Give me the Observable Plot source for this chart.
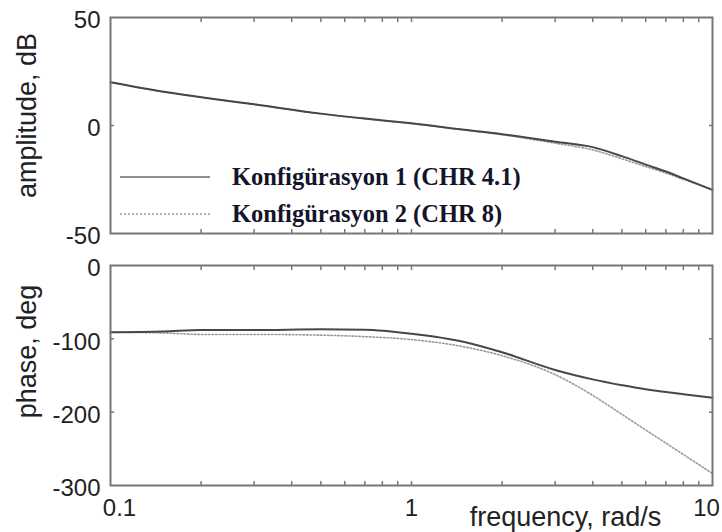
<!DOCTYPE html>
<html>
<head>
<meta charset="utf-8">
<script src="https://cdn.jsdelivr.net/npm/d3@7"></script>
<script src="https://cdn.jsdelivr.net/npm/@observablehq/plot@0.6"></script>
<style>
  html, body { margin: 0; padding: 0; background: #fff; }
  #chart { position: relative; width: 722px; height: 532px; overflow: hidden; }
  #chart svg { display: block; }
  .legend { position: absolute; left: 0; top: 0; width: 722px; height: 250px; pointer-events: none; }
  .legend .row { position: absolute; left: 120px; display: flex; align-items: center; }
  .legend .sample { width: 90px; height: 0; margin-right: 22px; }
  .legend .solid { border-top: 2px solid #8f8f8f; }
  .legend .dotted { border-top: 2px dotted #b0b0b0; }
  .legend .label { font-family: "Liberation Serif", "Times New Roman", serif; font-weight: bold; font-size: 24.5px; color: #14142a; white-space: pre; }
</style>
</head>
<body>
<div id="chart"></div>
<script>
// Bode diagram of two configurations (frequency in rad/s, log scale)
const frequency = [0.1, 0.15, 0.2, 0.3, 0.5, 0.7, 1, 1.5, 2, 3, 4, 5, 6, 7, 8, 10];

// amplitude, dB
const amplitude1 = [20.0, 15.6, 13.1, 9.8, 5.5, 3.2, 1.0, -2.0, -4.0, -7.5, -10.0, -14.2, -18.1, -21.3, -24.5, -29.8];
const amplitude2 = [20.0, 15.6, 13.1, 9.8, 5.4, 3.1, 0.9, -2.1, -4.3, -8.2, -11.3, -15.4, -19.0, -22.0, -24.9, -29.8];

// phase, deg
const phase1 = [-91, -90, -88, -88, -87, -87.5, -93, -104.2, -118.3, -142.5, -155.3, -163.2, -168.9, -172.6, -175.6, -180.5];
const phase2 = [-91, -92, -94, -94, -95, -97, -101, -111, -123, -148.8, -177.1, -203, -224.3, -242.2, -257.7, -283.7];

const seriesNames = ["Konfigürasyon 1 (CHR 4.1)", "Konfigürasyon 2 (CHR 8)"];

const ampTicks = [-50, 0, 50];
const phaseTicks = [-300, -200, -100, 0];
const ampInnerTicks = [0];
const phaseInnerTicks = [-200, -100];
const freqLabels = [0.1, 1, 10];
const freqMinor = [0.2, 0.3, 0.4, 0.5, 0.6, 0.7, 0.8, 0.9, 1, 2, 3, 4, 5, 6, 7, 8, 9];

const rows = (ys) => frequency.map((f, i) => ({f, v: ys[i]}));
const plain = d => String(d); // hyphen-minus, as in the printed figure

const frameColor = "#777";
const solidColor = "#474747";
const dottedColor = "#9a9a9a";
const textColor = "#222";
const sansFont = "'Liberation Sans', Arial, Helvetica, sans-serif";

function edgeTicks(yInner) {
  const common = {tickSize: -4, stroke: frameColor, strokeWidth: 1.5, tickFormat: () => "", label: null};
  return [
    Plot.axisX(freqMinor, {anchor: "top", ...common}),
    Plot.axisX(freqMinor, {anchor: "bottom", ...common}),
    Plot.axisY(yInner, {anchor: "left", ...common}),
    Plot.axisY(yInner, {anchor: "right", ...common})
  ];
}

function curves(a, b) {
  return [
    Plot.line(rows(b), {x: "f", y: "v", stroke: dottedColor, strokeWidth: 1.6, strokeDasharray: "1.5,2", curve: "monotone-x"}),
    Plot.line(rows(a), {x: "f", y: "v", stroke: solidColor, strokeWidth: 2, curve: "monotone-x"})
  ];
}

function yLabel(text, dy) {
  return Plot.text([text], {frameAnchor: "left", rotate: -90, textAnchor: "middle", lineAnchor: "middle", dx: -83, dy, fontSize: 27, fill: textColor});
}

const xScale = {type: "log", domain: [0.1, 10], label: null};

const ampPlot = Plot.plot({
  width: 722,
  height: 250,
  marginTop: 17,
  marginBottom: 17,
  marginLeft: 110,
  marginRight: 10,
  style: {fontFamily: sansFont, background: "transparent"},
  x: xScale,
  y: {domain: [-50, 50], label: null},
  marks: [
    ...curves(amplitude1, amplitude2),
    ...edgeTicks(ampInnerTicks),
    Plot.axisY(ampTicks, {anchor: "left", tickSize: 0, tickPadding: 10, dy: 3, fontSize: 24, fill: textColor, tickFormat: plain, label: null}),
    yLabel("amplitude, dB", -10),
    Plot.frame({stroke: frameColor, strokeWidth: 2})
  ]
});

const xTickText = {anchor: "bottom", tickSize: 0, tickPadding: 13, fontSize: 24, fill: textColor, tickFormat: plain, label: null};

const phasePlot = Plot.plot({
  width: 722,
  height: 282,
  marginTop: 15,
  marginBottom: 47,
  marginLeft: 110,
  marginRight: 10,
  style: {fontFamily: sansFont, background: "transparent"},
  x: xScale,
  y: {domain: [-300, 0], label: null},
  marks: [
    ...curves(phase1, phase2),
    ...edgeTicks(phaseInnerTicks),
    Plot.axisY(phaseTicks, {anchor: "left", tickSize: 0, tickPadding: 10, dy: 3, fontSize: 24, fill: textColor, tickFormat: plain, label: null}),
    Plot.axisX([freqLabels[0]], {...xTickText, dx: 9}),
    Plot.axisX([freqLabels[1]], {...xTickText}),
    Plot.axisX([freqLabels[2]], {...xTickText, dx: -6}),
    yLabel("phase, deg", -24),
    Plot.text(["frequency, rad/s"], {frameAnchor: "bottom", dx: 154, dy: 32, fontSize: 27, fill: textColor, lineAnchor: "middle"}),
    Plot.frame({stroke: frameColor, strokeWidth: 2})
  ]
});

const chart = document.getElementById("chart");
chart.appendChild(ampPlot);
chart.appendChild(phasePlot);

// legend drawn over the amplitude panel
const legend = document.createElement("div");
legend.className = "legend";
const legendRows = [
  {name: seriesNames[0], cls: "solid", top: 163},
  {name: seriesNames[1], cls: "dotted", top: 200}
];
for (const r of legendRows) {
  const row = document.createElement("div");
  row.className = "row";
  row.style.top = r.top + "px";
  const s = document.createElement("div");
  s.className = "sample " + r.cls;
  const t = document.createElement("span");
  t.className = "label";
  t.textContent = r.name;
  row.appendChild(s);
  row.appendChild(t);
  legend.appendChild(row);
}
chart.appendChild(legend);
</script>
</body>
</html>
